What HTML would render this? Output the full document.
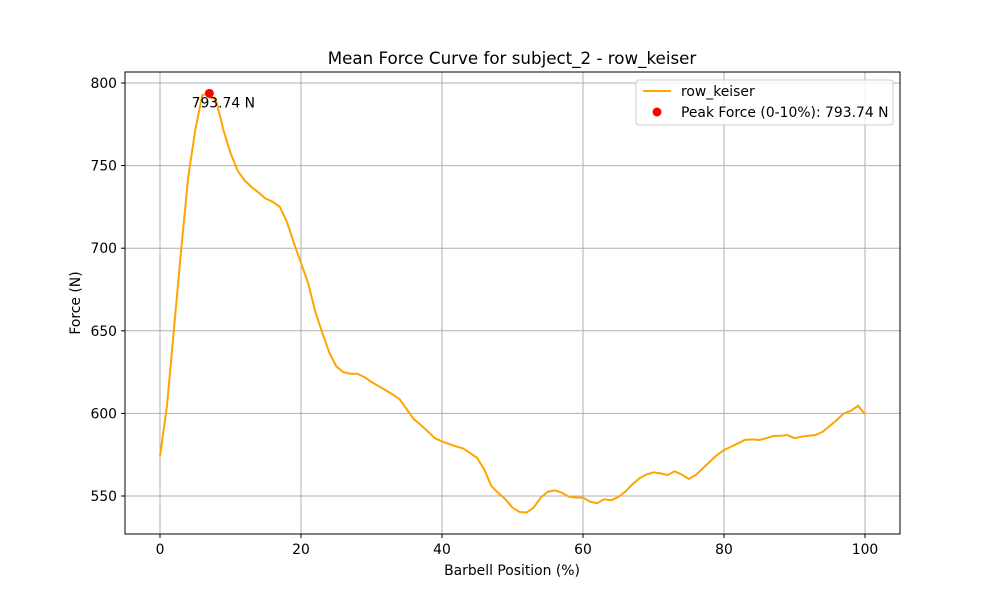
<!DOCTYPE html>
<html><head><meta charset="utf-8"><style>
body{margin:0;background:#fff}
svg{font-family:"DejaVu Sans","Liberation Sans",sans-serif}
</style></head><body>
<svg id="chart" width="1000" height="600" xmlns="http://www.w3.org/2000/svg">
<rect width="1000" height="600" fill="#fff"/>
<text x="512" y="64" text-anchor="middle" font-size="16.7">Mean Force Curve for subject_2 - row_keiser</text>
<g id="grid"></g>
<g id="ticks"></g>
<g id="series"></g>
<rect x="125" y="72" width="775" height="462" fill="none" stroke="#000" stroke-width="1"/>
<text x="512" y="575" text-anchor="middle" font-size="13.9">Barbell Position (%)</text>
<text x="0" y="0" transform="translate(80,303) rotate(-90)" text-anchor="middle" font-size="13.9">Force (N)</text>
<g>
<rect x="636" y="80" width="257" height="45" rx="3" fill="#fff" fill-opacity="0.8" stroke="#ccc"/>
<line x1="643" y1="91" x2="671" y2="91" stroke="orange" stroke-width="2"/>
<text x="681" y="96" font-size="13.9">row_keiser</text>
<circle cx="657" cy="112" r="4.5" fill="red"/>
<text x="681" y="117" font-size="13.9">Peak Force (0-10%): 793.74 N</text>
</g>
</svg>
<script>
const positions = Array.from({length:101},(_,i)=>i);
const forces = [574,605,652,699,743,771.5,792.7,793.74,788.7,771.5,757.6,747,741,737,733.6,730,728,725,716,703,691,679,662,649,637,628.5,625,624,624,622,619,616.6,614,611.5,608.5,602.5,596.5,593,589,585,583,581.5,580,578.8,576,573,566,556,551.8,548,543,540.3,540,543,549,552.6,553.4,552,549.6,549,549,546.6,545.6,548,547.4,549.4,552.6,557,560.7,563,564.3,563.7,562.7,565,563,560.3,562.7,566.8,570.8,574.8,577.8,579.8,581.9,584,584.3,583.9,585,586.3,586.5,586.9,585,585.9,586.5,586.9,588.9,592.4,596,600,601.6,604.7,599.6];
const xTicks = [0,20,40,60,80,100];
const yTicks = [550,600,650,700,750,800];
const peakX = 7, peakY = 793.74;
const peakLabel = "793.74 N";

const X = v => 160 + v*7.05;
const Y = v => 83 + (800 - v)*1.652;
const NS = "http://www.w3.org/2000/svg";
function mk(tag, attrs, parent){const e=document.createElementNS(NS,tag);for(const k in attrs)e.setAttribute(k,attrs[k]);parent.appendChild(e);return e;}
const grid=document.getElementById('grid'), ticks=document.getElementById('ticks'), series=document.getElementById('series');
xTicks.forEach(t=>{
  const g=mk('line',{x1:X(t),x2:X(t),y1:72,y2:534,stroke:'#b0b0b0','stroke-width':1},grid);
  
  
  mk('line',{x1:X(t),x2:X(t),y1:534,y2:538,stroke:'#000'},ticks);
  const tx=mk('text',{x:X(t),y:554,'text-anchor':'middle','font-size':13.9},ticks);
  tx.textContent=t;
  
  
});
yTicks.forEach(t=>{
  const g=mk('line',{x1:125,x2:900,y1:Y(t),y2:Y(t),stroke:'#b0b0b0','stroke-width':1},grid);
  
  
  mk('line',{x1:121,x2:125,y1:Y(t),y2:Y(t),stroke:'#000'},ticks);
  const tx=mk('text',{x:117,y:Y(t)+5,'text-anchor':'end','font-size':13.9},ticks);
  tx.textContent=t;
  
  
});
const p=mk('polyline',{points:positions.map((x,i)=>X(x)+','+Y(forces[i])).join(' '),fill:'none',stroke:'orange','stroke-width':2,'stroke-linejoin':'round'},series);


const c=mk('circle',{cx:X(peakX),cy:Y(peakY),r:4.5,fill:'red'},series);


const lb=mk('text',{x:X(peakX)+14,y:Y(peakY)+14,'text-anchor':'middle','font-size':13.9},series);
lb.textContent=peakLabel;


</script>
</body></html>
